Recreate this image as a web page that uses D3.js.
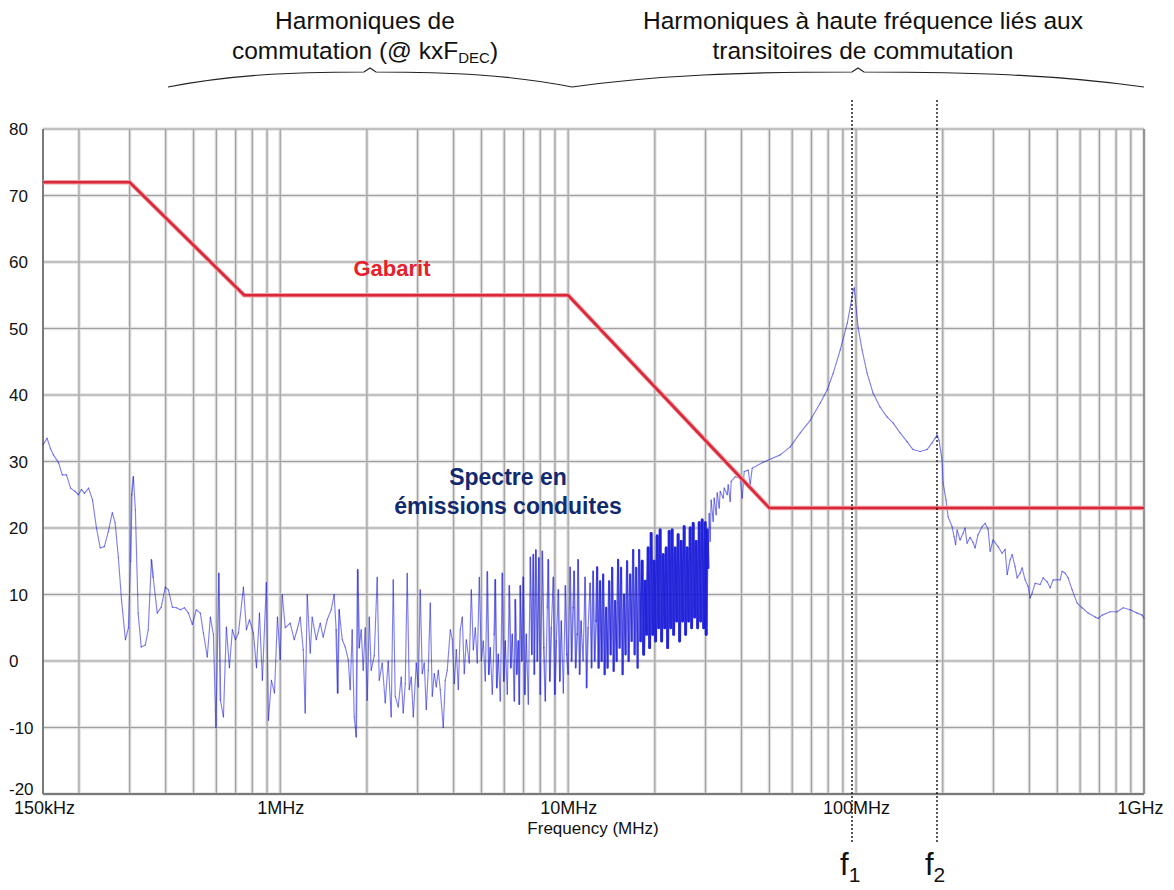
<!DOCTYPE html>
<html><head><meta charset="utf-8">
<script src="https://cdn.jsdelivr.net/npm/d3@7"></script>
<style>body{margin:0;background:#fff}svg{display:block;font-family:"Liberation Sans",Arial,sans-serif}</style>
</head><body><svg id="c" width="1174" height="890"></svg>
<script>
// Frequencies in MHz
const specFreq=[0.150,0.155,0.159,0.163,0.170,0.175,0.181,0.187,0.194,0.199,0.204,0.209,0.216,0.223,0.230,0.237,0.245,0.253,0.261,0.267,0.274,0.281,0.290,0.297,0.302,0.305,0.309,0.314,0.321,0.329,0.340,0.348,0.357,0.362,0.374,0.386,0.399,0.409,0.422,0.436,0.450,0.465,0.480,0.495,0.511,0.528,0.541,0.558,0.572,0.586,0.598,0.612,0.620,0.635,0.650,0.666,0.682,0.699,0.716,0.745,0.763,0.782,0.807,0.827,0.847,0.867,0.895,0.910,0.932,0.955,0.978,1.000,
1.016,1.041,1.083,1.118,1.145,1.173,1.202,1.221,1.241,1.271,1.291,1.334,1.377,1.410,1.456,1.503,1.539,1.564,1.583,1.602,1.642,1.682,1.723,1.750,1.778,1.807,1.836,1.858,1.881,1.911,1.942,1.973,2.005,2.038,2.070,2.121,2.172,2.207,2.261,2.316,2.372,2.429,2.469,2.508,2.569,2.632,2.674,2.718,2.761,2.806,2.852,2.898,2.968,3.016,3.064,3.113,3.164,3.215,3.267,3.320,3.373,3.428,3.483,3.539,3.596,3.683,3.743,3.803,3.896,3.959,4.023,4.088,4.154,4.220,4.288,4.357,4.428,4.535,4.609,4.683,4.759,4.835,4.914,
4.993,5.073,5.155,5.238,5.302,5.365,5.451,5.539,5.584,5.651,5.720,5.812,5.906,5.977,6.049,6.147,6.246,6.322,6.398,6.502,6.554,6.633,6.713,6.767,6.821,6.904,6.987,7.071,7.157,7.272,7.390,7.479,7.570,7.630,7.723,7.816,7.910,8.005,8.134,8.232,8.332,8.466,8.534,8.637,8.741,8.883,8.990,9.099,9.245,9.356,9.470,9.623,9.778,9.897,10.00,10.16,10.28,10.41,10.49,10.62,10.75,10.83,10.96,11.09,11.27,11.45,11.59,11.73,11.92,12.06,12.21,12.36,12.51,12.61,
12.76,12.91,13.07,13.23,13.39,13.55,13.71,13.88,14.05,14.22,14.39,14.56,14.74,14.91,15.09,15.27,15.46,15.64,15.83,16.02,16.22,16.42,16.62,16.82,17.02,17.23,17.43,17.64,17.85,18.07,18.29,18.51,18.73,18.96,19.19,19.42,19.66,19.89,20.13,20.38,20.62,20.87,21.12,21.38,21.64,21.90,22.16,22.43,22.70,22.97,23.25,23.53,23.82,24.10,24.39,24.69,24.98,25.29,25.59,25.90,26.21,26.53,26.85,27.18,27.50,27.84,28.17,28.52,28.86,29.21,29.56,29.92,30.16,
30.40,30.64,30.89,31.13,31.38,31.89,32.15,32.67,32.93,33.47,33.73,34.55,34.83,35.68,35.96,36.54,36.83,38.03,39.59,40.23,40.88,42.20,42.88,43.57,47.59,54.51,59.06,63.98,69.31,75.09,79.42,83.32,88.12,93.20,95.46,97.78,98.57,100.0,101.6,104.9,109.2,114.5,121.1,128.1,134.4,142.2,150.3,157.7,166.8,176.4,183.6,188.1,191.1,194.2,198.9,200.5,205.4,208.7,215.5,219.0,221.6,224.3,229.7,235.3,239.1,242.9,248.8,254.9,259.0,265.3,273.9,280.6,287.5,292.1,299.2,311.3,321.5,329.3,334.7,342.8,348.3,356.8,362.5,371.3,377.3,386.5,395.9,402.3,408.8,418.7,435.7,446.3,460.9,472.1,483.5,511.4,519.7,532.3,545.1,562.9,585.9,609.8,639.8,676.7,693.1,715.7,763.0,806.9,846.6,895.4,947.0,985.7,1000];
// Levels in dBµV
const specDb=[32.5,33.5,32,31,29.8,28,28,26,25.5,25,25.8,25.2,26,24.2,20,17,17.2,19.5,22.3,20.8,15.6,9.2,3.2,5,15,25,27.7,22.7,7.2,2.1,2.4,4.7,15.2,12.6,7.2,8.1,11.1,10.7,8.1,8.0,7.7,8,7.2,5.5,7.7,7.2,4.2,0.6,6.6,4,-10,13.2,-5.9,-8.4,5.1,-1,4.7,3.2,4.2,11.1,4.7,6.2,4.2,-1,7.2,-2.9,11.8,-8.9,-2.9,-4.8,6.6,0.2,
10,5,5.7,3.2,4.7,6.6,1.7,-7.8,10,1.2,6.6,3.2,5.7,3.6,6.2,7.7,10,4.7,-4.8,7.7,3.2,2.1,0.2,-4.3,4.7,-8.4,-11.4,13.7,2,4.7,-1.4,5,-5.9,6.6,-1.4,0.8,12.6,-2.9,-0.3,-6.3,0,-8.4,12.2,-5.3,-6.9,-2.4,-7.8,-3.4,13.2,-4.3,-2.4,-8.4,-0.3,-3.9,10.7,-1.9,-0.3,-7.3,-1.4,8.7,-5.3,-1.9,-3.9,-1.4,-4.3,-10,-2.9,-1.4,4.7,3.2,-3.4,1.7,-4.3,4.7,6.6,-1.9,3.2,-0.3,10.7,1.7,5,-0.3,12.6,
0,3,-3,13.4,-2,2,-5,4,12.2,-4,1,-6,13.2,-3,3,-5,11.3,-1,4,-6,9.2,-2,3,-6.5,11.3,0,12.6,-5,4,-6.5,15.6,1,16,-2,16.7,0,15.5,-5,16.5,2,-6,8,15.2,-3,5,12.6,-5,3,10.7,-3,6,-4.8,11.3,1,-2,14.1,0,8,13.5,-1,4,15.2,-2,6,0,12.6,-4,5,11.7,-1,13.5,0,6,14.1,
-1,12,0,13,-2,8,-1,12,1,14,-1.5,9,0,15.2,2,14,-2,10,1,15,0,13,3,16.7,1,14,-1,16.7,3,15,1,12,4,17,2,19.2,4,15,3,18.8,5,19.7,3,16,5,17,2,19.5,5,19.7,4,17,6,19,3,18,6,20.2,4,17,6,20,5,20.7,6.6,18,5,20.8,6,21.2,5,20.8,4,
19.7,14,22.2,18,24.2,21,24.5,22,25.3,23,25.5,24.5,26,25,26.5,24,27,27.7,27.5,24.5,28.5,28.7,26.5,29,29.9,31,32.2,34.3,36.2,38.8,40.8,43.3,46.8,50.8,53.2,55.8,56.1,53.2,50.2,46.8,43.3,40.3,38.2,36.7,35.8,34.3,33,31.8,31.5,31.8,32.8,33.5,34,33.2,30.2,26.8,24.2,21.7,20.2,18.7,17.5,19.7,18.2,19.2,20,17.7,18.6,17.8,17,19,20.2,20.7,19.8,16.5,18.2,17.2,16.2,16.8,13,15.2,16,14.2,12.5,13.2,14,12.2,11.2,9.5,10.2,11.7,11.5,12.5,11.9,11,12.2,12.2,13.5,13.2,12.5,10.7,8.7,8,7.2,6.6,6.4,6.9,7.4,7.4,8,7.7,7.2,6.9,6.4];
const gabaritFreq=[0.15,0.3,0.75,10,50,1000];
const gabaritDb=[72,72,55,55,23,23];
const yTicks=[-20,-10,0,10,20,30,40,50,60,70,80];
const xTickVals=[0.15,1,10,100,1000];
const xTickLabels=["150kHz","1MHz","10MHz","100MHz","1GHz"];
const markerFreq=[96.8,191];
const markerSub=["1","2"];

const svg=d3.select("#c");
const x=d3.scaleLog().domain([0.15,1000]).range([43,1144]);
const y=d3.scaleLinear().domain([-20,80]).range([794,129]);

// grid
const g=svg.append("g");
const vt=x.ticks().filter(v=>v>0.15);
[["#e2e2e2",3.5],["#a0a0a0",1.2]].forEach(([c,w])=>{
  g.append("g").selectAll("line").data(vt).join("line")
   .attr("x1",d=>x(d)).attr("x2",d=>x(d)).attr("y1",y(80)).attr("y2",y(-20))
   .attr("stroke",c).attr("stroke-width",w);
  g.append("g").selectAll("line").data(yTicks).join("line")
   .attr("x1",x(0.15)).attr("x2",x(1000)).attr("y1",d=>y(d)).attr("y2",d=>y(d))
   .attr("stroke",c).attr("stroke-width",w);
});
g.append("line").attr("x1",x(0.15)).attr("x2",x(0.15)).attr("y1",y(80)).attr("y2",y(-20)).attr("stroke","#7a7a7a").attr("stroke-width",2);
g.append("line").attr("x1",x(0.15)).attr("x2",x(1000)).attr("y1",y(-20)).attr("y2",y(-20)).attr("stroke","#7a7a7a").attr("stroke-width",2);
g.append("line").attr("x1",x(1000)).attr("x2",x(1000)).attr("y1",y(80)).attr("y2",y(-20)).attr("stroke","#8a8a8a").attr("stroke-width",1.6);

// axes labels
const yAxis=svg.append("g").attr("transform",`translate(${x(0.15)},0)`)
  .call(d3.axisLeft(y).tickValues(yTicks).tickSize(0).tickFormat(d=>String(d)));
yAxis.select(".domain").remove();
yAxis.selectAll("text").attr("text-anchor","start").attr("x",-34).attr("dy",d=>d===-20?"0.05em":"0.35em")
  .style("font-size","17px").style("font-family","Liberation Sans, Arial").attr("fill","#111");
const xAxis=svg.append("g").attr("transform",`translate(0,${y(-20)})`)
  .call(d3.axisBottom(x).tickValues(xTickVals).tickSize(0).tickFormat((d,i)=>xTickLabels[i]));
xAxis.select(".domain").remove();
xAxis.selectAll("text").attr("y",7).style("font-size","18px").style("font-family","Liberation Sans, Arial").attr("fill","#111")
  .attr("dx",(d,i)=>i===4?-4:(i===0?1:0));
svg.append("text").attr("x",593).attr("y",834).attr("text-anchor","middle")
  .style("font-size","17px").attr("fill","#111").text("Frequency (MHz)");

// spectrum
const pts=specFreq.map((f,i)=>[x(f),y(specDb[i])]);
const segs=d3.pairs(pts);
const dense=d=>(d[1][0]-d[0][0])<1.8 && d[0][0]<708;
const wid=d=>!dense(d)?1.15:(d[0][0]>640?2.8:(d[0][0]>595?2.1:1.6));
const op=d=>!dense(d)?0.55:(d[0][0]>640?0.8:(d[0][0]>595?0.68:0.6));
svg.append("g").selectAll("line").data(segs).join("line")
  .attr("x1",d=>d[0][0]).attr("y1",d=>d[0][1]).attr("x2",d=>d[1][0]).attr("y2",d=>d[1][1])
  .attr("stroke","#1a1ad8").attr("stroke-opacity",op).attr("stroke-width",wid)
  .attr("stroke-linecap","round");

// gabarit
const gl=d3.line().x((d,i)=>x(gabaritFreq[i])).y((d,i)=>y(gabaritDb[i]));
svg.append("path").attr("d",gl(gabaritFreq)).attr("fill","none").attr("stroke","#f2a0a5").attr("stroke-width",4.5);
svg.append("path").attr("d",gl(gabaritFreq)).attr("fill","none").attr("stroke","#d8283a").attr("stroke-width",2.6);

// markers
const mk=svg.append("g");
markerFreq.forEach((f,i)=>{
  mk.append("line").attr("x1",x(f)).attr("x2",x(f)).attr("y1",100).attr("y2",843)
    .attr("stroke","#111").attr("stroke-width",1.4).attr("stroke-dasharray","2,2");
  const t=mk.append("text").attr("x",x(f)-12).attr("y",875).attr("fill","#111").style("font-size","31px");
  t.append("tspan").text("f");
  t.append("tspan").attr("dy",7).style("font-size","21px").text(markerSub[i]);
});

// annotations
svg.append("text").attr("x",392).attr("y",276).attr("text-anchor","middle").attr("fill","#e8202a")
  .style("font-size","22px").style("font-weight","bold").text("Gabarit");
const sp=svg.append("text").attr("text-anchor","middle").attr("fill","#12296e").style("font-size","23px").style("font-weight","bold");
sp.append("tspan").attr("x",508).attr("y",485).text("Spectre en");
sp.append("tspan").attr("x",508).attr("y",514).text("émissions conduites");

const topG=svg.append("g").attr("fill","#111").style("font-size","24.5px");
topG.append("text").attr("x",365).attr("y",29).attr("text-anchor","middle").text("Harmoniques de");
const t2=topG.append("text").attr("x",365).attr("y",59).attr("text-anchor","middle");
t2.append("tspan").text("commutation (@ kxF");
t2.append("tspan").attr("dy",4).style("font-size","15px").text("DEC");
t2.append("tspan").attr("dy",-4).text(")");
topG.append("text").attr("x",863).attr("y",29).attr("text-anchor","middle").text("Harmoniques à haute fréquence liés aux");
topG.append("text").attr("x",863).attr("y",59).attr("text-anchor","middle").text("transitoires de commutation");

function brace(x0,x1,yEnd,yMid){
  const c=(x0+x1)/2;
  return `M${x0},${yEnd} C${x0+(c-x0)*0.3},${yMid+3} ${x0+(c-x0)*0.6},${yMid} ${c-6},${yMid} L${c},${yMid-4} L${c+6},${yMid} C${x1-(x1-c)*0.6},${yMid} ${x1-(x1-c)*0.3},${yMid+3} ${x1},${yEnd}`;
}
svg.append("path").attr("d",brace(168,572,87,72)).attr("fill","none").attr("stroke","#222").attr("stroke-width",1.2);
svg.append("path").attr("d",brace(572,1144,87,72)).attr("fill","none").attr("stroke","#222").attr("stroke-width",1.2);
</script></body></html>
